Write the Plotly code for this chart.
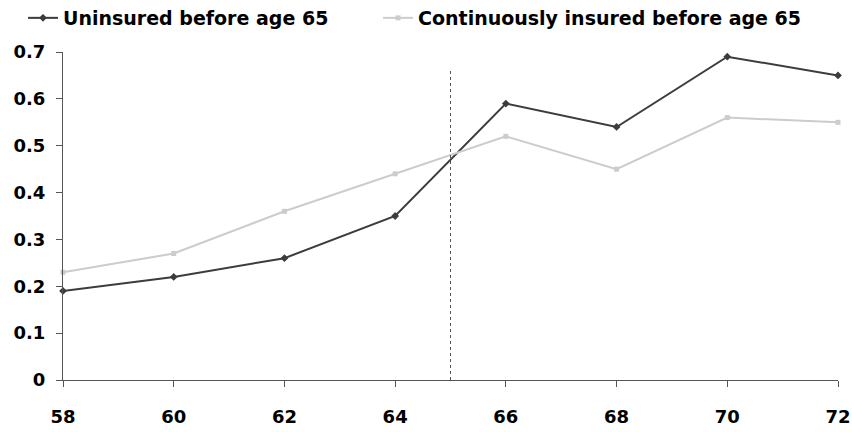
import plotly.graph_objects as go

ages = [58, 60, 62, 64, 66, 68, 70, 72]
uninsured = [0.19, 0.22, 0.26, 0.35, 0.59, 0.54, 0.69, 0.65]
insured = [0.23, 0.27, 0.36, 0.44, 0.52, 0.45, 0.56, 0.55]
x_ticks = [58, 60, 62, 64, 66, 68, 70, 72]
y_ticks = [0, 0.1, 0.2, 0.3, 0.4, 0.5, 0.6, 0.7]
y_labels = ["0", "0.1", "0.2", "0.3", "0.4", "0.5", "0.6", "0.7"]
cutoff_age = 65
cutoff_top = 0.66

FONT = "DejaVu Sans"

fig = go.Figure()
fig.add_trace(go.Scatter(
    x=ages, y=uninsured, name="Uninsured before age 65", mode="lines+markers",
    line=dict(color="#3c3c3c", width=2),
    marker=dict(symbol="diamond", size=6, color="#3c3c3c"),
    cliponaxis=False, legend="legend",
))
fig.add_trace(go.Scatter(
    x=ages, y=insured, name="Continuously insured before age 65", mode="lines+markers",
    line=dict(color="#cccccc", width=2),
    marker=dict(symbol="square", size=5, color="#cccccc"),
    cliponaxis=False, legend="legend2",
))
fig.add_shape(type="line", x0=cutoff_age, x1=cutoff_age, y0=0, y1=cutoff_top,
              xref="x", yref="y", line=dict(color="#555555", width=1, dash="dot"))

legend_common = dict(orientation="h", xref="container", yref="container",
                     y=1 - 18 / 432, xanchor="left", yanchor="middle",
                     font=dict(family=FONT, size=19, color="black", weight="bold"),
                     itemwidth=30, bgcolor="rgba(0,0,0,0)")

fig.update_layout(
    width=852, height=432,
    margin=dict(l=63, r=14, t=52, b=52, autoexpand=False),
    paper_bgcolor="white", plot_bgcolor="white",
    font=dict(family=FONT, size=17, color="black"),
    showlegend=True,
    legend=dict(x=0.027, **legend_common),
    legend2=dict(x=0.4437, **legend_common),
)
fig.update_xaxes(
    range=[58, 72], tickvals=x_ticks, ticktext=[str(t) for t in x_ticks],
    showgrid=False, zeroline=False, showline=True, linecolor="#555555", linewidth=1,
    ticks="outside", ticklen=6, tickcolor="#555555", tickwidth=1,
    tickfont=dict(family=FONT, size=18, color="black", weight="bold"),
    ticklabelstandoff=14, automargin=False,
)
fig.update_yaxes(
    range=[0, 0.7], tickvals=y_ticks, ticktext=y_labels,
    showgrid=False, zeroline=False, showline=True, linecolor="#555555", linewidth=1,
    ticks="outside", ticklen=6, tickcolor="#555555", tickwidth=1,
    tickfont=dict(family=FONT, size=18, color="black", weight="bold"),
    ticklabelstandoff=7, automargin=False,
)
fig.write_html("out.html", config={"displayModeBar": False},
               post_script="document.body.style.margin='0';")
